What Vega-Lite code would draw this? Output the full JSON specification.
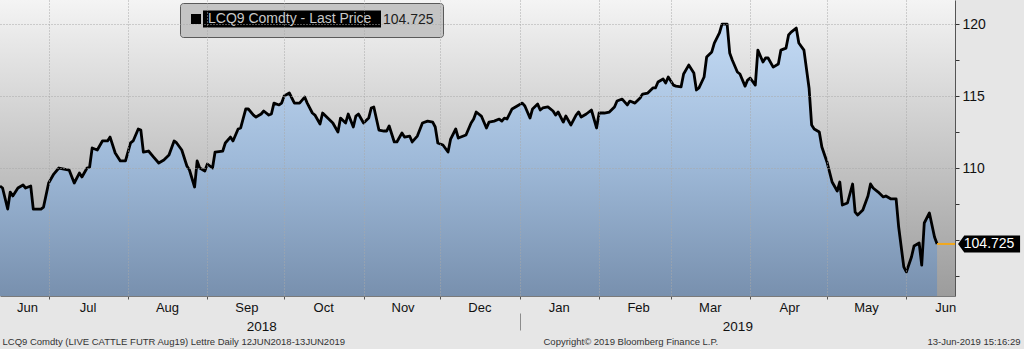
{
  "$schema": "https://vega.github.io/schema/vega-lite/v6.json",
  "width": 955,
  "height": 296,
  "autosize": {"type": "none"},
  "padding": {"left": 0, "top": 0, "right": 69, "bottom": 53},
  "background": "#e6e6e6",
  "config": {
    "font": "Liberation Sans",
    "view": {
      "stroke": null,
      "fill": {"gradient": "linear", "x1": 0, "y1": 0, "x2": 0, "y2": 1, "stops": [{"offset": 0, "color": "#f4f4f4"}, {"offset": 1, "color": "#9c9c9c"}]}
    }
  },
  "data": {"values": [
    {"date": "2018-06-12", "price": 108.75}, {"date": "2018-06-13", "price": 108.61}, {"date": "2018-06-15", "price": 107.15},
    {"date": "2018-06-16", "price": 108.33}, {"date": "2018-06-17", "price": 108.06}, {"date": "2018-06-19", "price": 108.61},
    {"date": "2018-06-21", "price": 108.82}, {"date": "2018-06-22", "price": 108.61}, {"date": "2018-06-24", "price": 108.75},
    {"date": "2018-06-25", "price": 107.15}, {"date": "2018-06-28", "price": 107.15}, {"date": "2018-06-29", "price": 107.29},
    {"date": "2018-07-01", "price": 108.96}, {"date": "2018-07-03", "price": 109.58}, {"date": "2018-07-05", "price": 110.0},
    {"date": "2018-07-07", "price": 109.93}, {"date": "2018-07-09", "price": 109.86}, {"date": "2018-07-11", "price": 108.96},
    {"date": "2018-07-13", "price": 109.65}, {"date": "2018-07-14", "price": 109.38}, {"date": "2018-07-16", "price": 110.0},
    {"date": "2018-07-17", "price": 110.07}, {"date": "2018-07-18", "price": 111.39}, {"date": "2018-07-20", "price": 111.25},
    {"date": "2018-07-22", "price": 111.88}, {"date": "2018-07-24", "price": 111.88}, {"date": "2018-07-25", "price": 112.15},
    {"date": "2018-07-27", "price": 111.04}, {"date": "2018-07-29", "price": 110.49}, {"date": "2018-07-31", "price": 110.49},
    {"date": "2018-08-02", "price": 111.74}, {"date": "2018-08-03", "price": 111.88}, {"date": "2018-08-05", "price": 112.71},
    {"date": "2018-08-06", "price": 112.64}, {"date": "2018-08-07", "price": 111.11}, {"date": "2018-08-09", "price": 111.18},
    {"date": "2018-08-11", "price": 110.76}, {"date": "2018-08-13", "price": 110.35}, {"date": "2018-08-15", "price": 110.56},
    {"date": "2018-08-17", "price": 110.9}, {"date": "2018-08-19", "price": 111.88}, {"date": "2018-08-20", "price": 111.74},
    {"date": "2018-08-22", "price": 111.25}, {"date": "2018-08-24", "price": 110.14}, {"date": "2018-08-25", "price": 109.86},
    {"date": "2018-08-27", "price": 108.68}, {"date": "2018-08-28", "price": 110.49}, {"date": "2018-08-29", "price": 110.0},
    {"date": "2018-08-31", "price": 109.79}, {"date": "2018-09-01", "price": 110.28}, {"date": "2018-09-03", "price": 110.0},
    {"date": "2018-09-04", "price": 111.11}, {"date": "2018-09-07", "price": 111.18}, {"date": "2018-09-08", "price": 111.74},
    {"date": "2018-09-10", "price": 112.15}, {"date": "2018-09-11", "price": 111.88}, {"date": "2018-09-13", "price": 112.71},
    {"date": "2018-09-14", "price": 112.78}, {"date": "2018-09-16", "price": 114.1}, {"date": "2018-09-17", "price": 114.1},
    {"date": "2018-09-19", "price": 113.68}, {"date": "2018-09-20", "price": 113.54}, {"date": "2018-09-22", "price": 113.75},
    {"date": "2018-09-23", "price": 113.96}, {"date": "2018-09-25", "price": 113.68}, {"date": "2018-09-26", "price": 113.75},
    {"date": "2018-09-27", "price": 114.51}, {"date": "2018-09-29", "price": 114.38}, {"date": "2018-09-30", "price": 114.51},
    {"date": "2018-10-01", "price": 115.0}, {"date": "2018-10-03", "price": 115.21}, {"date": "2018-10-05", "price": 114.51},
    {"date": "2018-10-07", "price": 114.51}, {"date": "2018-10-09", "price": 114.93}, {"date": "2018-10-10", "price": 114.51},
    {"date": "2018-10-12", "price": 113.82}, {"date": "2018-10-13", "price": 113.68}, {"date": "2018-10-15", "price": 113.06},
    {"date": "2018-10-16", "price": 113.82}, {"date": "2018-10-18", "price": 113.47}, {"date": "2018-10-20", "price": 113.13},
    {"date": "2018-10-22", "price": 112.5}, {"date": "2018-10-23", "price": 113.47}, {"date": "2018-10-25", "price": 113.13},
    {"date": "2018-10-26", "price": 113.75}, {"date": "2018-10-28", "price": 112.85}, {"date": "2018-10-29", "price": 113.61},
    {"date": "2018-10-30", "price": 113.75}, {"date": "2018-11-01", "price": 113.13}, {"date": "2018-11-03", "price": 113.47},
    {"date": "2018-11-04", "price": 114.17}, {"date": "2018-11-05", "price": 114.24}, {"date": "2018-11-07", "price": 112.64},
    {"date": "2018-11-09", "price": 112.57}, {"date": "2018-11-10", "price": 112.57}, {"date": "2018-11-11", "price": 112.92},
    {"date": "2018-11-13", "price": 111.81}, {"date": "2018-11-14", "price": 111.81}, {"date": "2018-11-16", "price": 112.43},
    {"date": "2018-11-17", "price": 112.15}, {"date": "2018-11-19", "price": 112.22}, {"date": "2018-11-20", "price": 111.81},
    {"date": "2018-11-22", "price": 112.22}, {"date": "2018-11-24", "price": 113.13}, {"date": "2018-11-26", "price": 113.26},
    {"date": "2018-11-28", "price": 113.19}, {"date": "2018-11-29", "price": 112.85}, {"date": "2018-11-30", "price": 111.74},
    {"date": "2018-12-02", "price": 111.6}, {"date": "2018-12-04", "price": 111.11}, {"date": "2018-12-05", "price": 112.01},
    {"date": "2018-12-07", "price": 112.71}, {"date": "2018-12-08", "price": 112.08}, {"date": "2018-12-11", "price": 112.29},
    {"date": "2018-12-13", "price": 113.13}, {"date": "2018-12-14", "price": 113.4}, {"date": "2018-12-15", "price": 113.89},
    {"date": "2018-12-17", "price": 113.61}, {"date": "2018-12-19", "price": 112.78}, {"date": "2018-12-20", "price": 113.19},
    {"date": "2018-12-22", "price": 113.26}, {"date": "2018-12-24", "price": 113.4}, {"date": "2018-12-25", "price": 113.26},
    {"date": "2018-12-26", "price": 113.47}, {"date": "2018-12-27", "price": 113.4}, {"date": "2018-12-29", "price": 114.1},
    {"date": "2018-12-31", "price": 114.31}, {"date": "2019-01-02", "price": 114.51}, {"date": "2019-01-03", "price": 114.31},
    {"date": "2019-01-05", "price": 113.47}, {"date": "2019-01-06", "price": 114.1}, {"date": "2019-01-08", "price": 114.44},
    {"date": "2019-01-09", "price": 114.03}, {"date": "2019-01-10", "price": 114.17}, {"date": "2019-01-12", "price": 114.24},
    {"date": "2019-01-14", "price": 113.96}, {"date": "2019-01-15", "price": 113.68}, {"date": "2019-01-16", "price": 113.89},
    {"date": "2019-01-18", "price": 113.19}, {"date": "2019-01-19", "price": 113.61}, {"date": "2019-01-21", "price": 112.99},
    {"date": "2019-01-23", "price": 113.68}, {"date": "2019-01-24", "price": 113.89}, {"date": "2019-01-25", "price": 113.54},
    {"date": "2019-01-27", "price": 113.75}, {"date": "2019-01-29", "price": 114.03}, {"date": "2019-01-31", "price": 112.78},
    {"date": "2019-02-01", "price": 113.82}, {"date": "2019-02-03", "price": 113.82}, {"date": "2019-02-05", "price": 113.89},
    {"date": "2019-02-07", "price": 114.24}, {"date": "2019-02-08", "price": 114.65}, {"date": "2019-02-10", "price": 114.79},
    {"date": "2019-02-12", "price": 114.38}, {"date": "2019-02-13", "price": 114.65}, {"date": "2019-02-15", "price": 114.51},
    {"date": "2019-02-17", "price": 114.86}, {"date": "2019-02-18", "price": 115.14}, {"date": "2019-02-20", "price": 115.21},
    {"date": "2019-02-22", "price": 115.56}, {"date": "2019-02-23", "price": 115.56}, {"date": "2019-02-24", "price": 115.97},
    {"date": "2019-02-26", "price": 116.18}, {"date": "2019-02-27", "price": 115.9}, {"date": "2019-02-28", "price": 116.32},
    {"date": "2019-03-02", "price": 115.76}, {"date": "2019-03-03", "price": 115.69}, {"date": "2019-03-05", "price": 115.63},
    {"date": "2019-03-06", "price": 116.53}, {"date": "2019-03-08", "price": 117.15}, {"date": "2019-03-10", "price": 116.6},
    {"date": "2019-03-11", "price": 115.42}, {"date": "2019-03-12", "price": 115.56}, {"date": "2019-03-14", "price": 116.32},
    {"date": "2019-03-15", "price": 117.71}, {"date": "2019-03-17", "price": 118.06}, {"date": "2019-03-18", "price": 118.68},
    {"date": "2019-03-20", "price": 119.38}, {"date": "2019-03-21", "price": 120.0}, {"date": "2019-03-23", "price": 120.0},
    {"date": "2019-03-24", "price": 117.99}, {"date": "2019-03-25", "price": 117.5}, {"date": "2019-03-27", "price": 116.67},
    {"date": "2019-03-28", "price": 116.53}, {"date": "2019-03-30", "price": 115.69}, {"date": "2019-03-31", "price": 116.11},
    {"date": "2019-04-01", "price": 116.25}, {"date": "2019-04-03", "price": 115.76}, {"date": "2019-04-04", "price": 118.19},
    {"date": "2019-04-06", "price": 117.36}, {"date": "2019-04-07", "price": 117.64}, {"date": "2019-04-08", "price": 117.64},
    {"date": "2019-04-10", "price": 117.01}, {"date": "2019-04-12", "price": 117.22}, {"date": "2019-04-13", "price": 118.19},
    {"date": "2019-04-15", "price": 118.33}, {"date": "2019-04-16", "price": 119.24}, {"date": "2019-04-17", "price": 119.44},
    {"date": "2019-04-19", "price": 119.72}, {"date": "2019-04-20", "price": 118.68}, {"date": "2019-04-22", "price": 118.19},
    {"date": "2019-04-24", "price": 115.56}, {"date": "2019-04-25", "price": 112.99}, {"date": "2019-04-26", "price": 112.71},
    {"date": "2019-04-28", "price": 112.5}, {"date": "2019-04-29", "price": 111.46}, {"date": "2019-05-01", "price": 110.42},
    {"date": "2019-05-03", "price": 109.03}, {"date": "2019-05-05", "price": 108.4}, {"date": "2019-05-06", "price": 109.03},
    {"date": "2019-05-07", "price": 107.43}, {"date": "2019-05-09", "price": 107.57}, {"date": "2019-05-11", "price": 108.89},
    {"date": "2019-05-12", "price": 106.94}, {"date": "2019-05-13", "price": 106.74}, {"date": "2019-05-15", "price": 107.08},
    {"date": "2019-05-17", "price": 108.06}, {"date": "2019-05-18", "price": 108.89}, {"date": "2019-05-19", "price": 108.61},
    {"date": "2019-05-21", "price": 108.33}, {"date": "2019-05-23", "price": 107.99}, {"date": "2019-05-24", "price": 108.06},
    {"date": "2019-05-26", "price": 107.85}, {"date": "2019-05-28", "price": 107.85}, {"date": "2019-05-29", "price": 105.9},
    {"date": "2019-05-31", "price": 103.13}, {"date": "2019-06-01", "price": 102.78}, {"date": "2019-06-03", "price": 103.82},
    {"date": "2019-06-04", "price": 104.58}, {"date": "2019-06-06", "price": 104.79}, {"date": "2019-06-07", "price": 103.26},
    {"date": "2019-06-08", "price": 106.18}, {"date": "2019-06-10", "price": 106.88}, {"date": "2019-06-12", "price": 105.21},
    {"date": "2019-06-13", "price": 104.725}
  ]},
  "resolve": {"axis": {"x": "independent"}},
  "layer": [
    {
      "mark": {
        "type": "area",
        "opacity": 1,
        "fillOpacity": 1,
        "fill": {"gradient": "linear", "x1": 0.5, "y1": 0, "x2": 0.5, "y2": 1, "stops": [{"offset": 0, "color": "#c3daf4"}, {"offset": 0.5, "color": "#9fbad9"}, {"offset": 1, "color": "#7890ae"}]}
      },
      "encoding": {
        "x": {
          "field": "date", "type": "temporal",
          "scale": {"domain": [{"year": 2018, "month": 6, "date": 12, "utc": true}, {"year": 2019, "month": 6, "date": 20, "utc": true}], "nice": false},
          "axis": {
            "orient": "bottom",
            "values": [
              {"year": 2018, "month": 6, "date": 12, "utc": true},
              {"year": 2018, "month": 7, "date": 1, "utc": true},
              {"year": 2018, "month": 8, "date": 1, "utc": true},
              {"year": 2018, "month": 9, "date": 1, "utc": true},
              {"year": 2018, "month": 10, "date": 1, "utc": true},
              {"year": 2018, "month": 11, "date": 1, "utc": true},
              {"year": 2018, "month": 12, "date": 1, "utc": true},
              {"year": 2019, "month": 1, "date": 1, "utc": true},
              {"year": 2019, "month": 2, "date": 1, "utc": true},
              {"year": 2019, "month": 3, "date": 1, "utc": true},
              {"year": 2019, "month": 4, "date": 1, "utc": true},
              {"year": 2019, "month": 5, "date": 1, "utc": true},
              {"year": 2019, "month": 6, "date": 1, "utc": true}
            ],
            "labelExpr": "utcFormat(datum.value, '%b')",
            "labelOffset": {"condition": {"test": "utcdate(datum.value) == 12", "value": 27}, "value": 39},
            "labelOverlap": false, "labelFlush": false, "labelBound": false,
            "labelFontSize": 13, "labelColor": "#111111", "labelPadding": 2,
            "tickSize": 3, "tickColor": "#555555",
            "tickOpacity": {"condition": {"test": "utcdate(datum.value) == 12", "value": 0}, "value": 1},
            "grid": true, "gridColor": "#a9a9a9", "gridDash": [1, 2],
            "gridOpacity": {"condition": {"test": "utcdate(datum.value) == 12", "value": 0}, "value": 1},
            "domain": true, "domainColor": "#7a7a7a",
            "zindex": 1,
            "title": "LCQ9 Comdty (LIVE CATTLE FUTR  Aug19) Lettre  Daily 12JUN2018-13JUN2019",
            "titleX": 2, "titleY": 48, "titleAlign": "left", "titleBaseline": "alphabetic",
            "titleFontSize": 9.5, "titleFontWeight": "normal", "titleColor": "#333333"
          }
        },
        "y": {
          "field": "price", "type": "quantitative",
          "scale": {"domain": [101.11, 121.67], "nice": false, "zero": false},
          "axis": {
            "orient": "right",
            "values": [102.5, 105, 107.5, 110, 112.5, 115, 117.5, 120],
            "labelExpr": "indexof([110, 115, 120], datum.value) >= 0 ? format(datum.value, 'd') : ''",
            "labelOverlap": false,
            "grid": true, "gridDash": [1, 2], "gridColor": "#a9a9a9",
            "gridOpacity": {"condition": {"test": "indexof([110, 115, 120], datum.value) >= 0", "value": 1}, "value": 0},
            "tickSize": 4, "tickColor": "#333333", "domainColor": "#555555",
            "labelPadding": 3, "labelFontSize": 14, "labelColor": "#111111",
            "zindex": 1,
            "title": "13-Jun-2019 15:16:29", "titleAngle": 0, "titleX": 65, "titleY": 344,
            "titleAlign": "right", "titleBaseline": "alphabetic",
            "titleFontSize": 9.5, "titleFontWeight": "normal", "titleColor": "#333333"
          }
        },
        "y2": {"datum": 101.11}
      }
    },
    {
      "mark": {"type": "line", "strokeWidth": 2.8, "strokeJoin": "round"},
      "encoding": {
        "x": {
          "field": "date", "type": "temporal",
          "axis": {
            "orient": "bottom", "offset": 17,
            "values": [
              {"year": 2018, "month": 9, "date": 22, "utc": true},
              {"year": 2019, "month": 1, "date": 1, "utc": true},
              {"year": 2019, "month": 3, "date": 27, "utc": true}
            ],
            "labelExpr": "utcmonth(datum.value) == 0 ? '' : utcFormat(datum.value, '%Y')",
            "grid": false, "domain": false,
            "tickSize": 17, "tickColor": "#8c8c8c",
            "tickOpacity": {"condition": {"test": "utcmonth(datum.value) == 0", "value": 1}, "value": 0},
            "labelPadding": -11, "labelFontSize": 13.5, "labelColor": "#111111", "labelBaseline": "top",
            "labelOverlap": false, "labelFlush": false, "labelBound": false,
            "zindex": 1,
            "title": "Copyright\u00a9 2019 Bloomberg Finance L.P.",
            "titleX": 543, "titleY": 31, "titleAlign": "left", "titleBaseline": "alphabetic", "titleAngle": 0,
            "titleFontSize": 9.5, "titleFontWeight": "normal", "titleColor": "#333333"
          }
        },
        "y": {"field": "price", "type": "quantitative"},
        "color": {
          "datum": "LCQ9 Comdty - Last Price",
          "scale": {"range": ["#000000"]},
          "legend": {
            "orient": "none", "legendX": 180, "legendY": 3,
            "title": "104.725", "titleOrient": "right", "titleFontSize": 14, "titleFontWeight": "normal",
            "titleColor": "#1e1e1e", "titlePadding": 2, "titleBaseline": "middle", "titleAnchor": "middle",
            "labelFontSize": 14, "labelColor": "#c8c8c8", "labelOffset": 5, "labelLimit": 400,
            "fillColor": "#c4c4c4", "strokeColor": "#5a5a5a", "cornerRadius": 3, "padding": 9,
            "symbolSize": 100,
            "symbolType": "M-1,-1H1V1H-1ZM1.4,-1.7H37V1.7H1.4Z",
            "encode": {"symbols": {"update": {
              "shape": {"value": "M-1,-1H1V1H-1ZM1.4,-1.7H37V1.7H1.4Z"},
              "fill": {"value": "#000000"},
              "stroke": {"value": "#000000"},
              "strokeWidth": {"value": 0},
              "opacity": {"value": 1}
            }}}
          }
        }
      }
    },
    {
      "data": {"values": [{"date": "2019-06-13", "end": "2019-06-20", "price": 104.725}]},
      "mark": {"type": "rule", "color": "#f2a81d", "strokeWidth": 2},
      "encoding": {
        "x": {"field": "date", "type": "temporal", "axis": null},
        "x2": {"field": "end"},
        "y": {"field": "price", "type": "quantitative"}
      }
    },
    {
      "data": {"values": [{"date": "2019-06-13", "price": 104.725, "label": "104.725"}]},
      "mark": {
        "type": "point", "shape": "M-1,0L-0.8,-0.274L1,-0.274L1,0.274L-0.8,0.274Z",
        "size": 3844, "filled": true, "color": "#000000", "opacity": 1, "xOffset": 52
      },
      "encoding": {
        "x": {"field": "date", "type": "temporal", "axis": null},
        "y": {"field": "price", "type": "quantitative"}
      }
    },
    {
      "data": {"values": [{"date": "2019-06-13", "price": 104.725, "label": "104.725"}]},
      "mark": {"type": "text", "dx": 52, "color": "#ffffff", "fontSize": 14, "align": "center", "baseline": "middle"},
      "encoding": {
        "x": {"field": "date", "type": "temporal", "axis": null},
        "y": {"field": "price", "type": "quantitative"},
        "text": {"field": "label"}
      }
    }
  ]
}
